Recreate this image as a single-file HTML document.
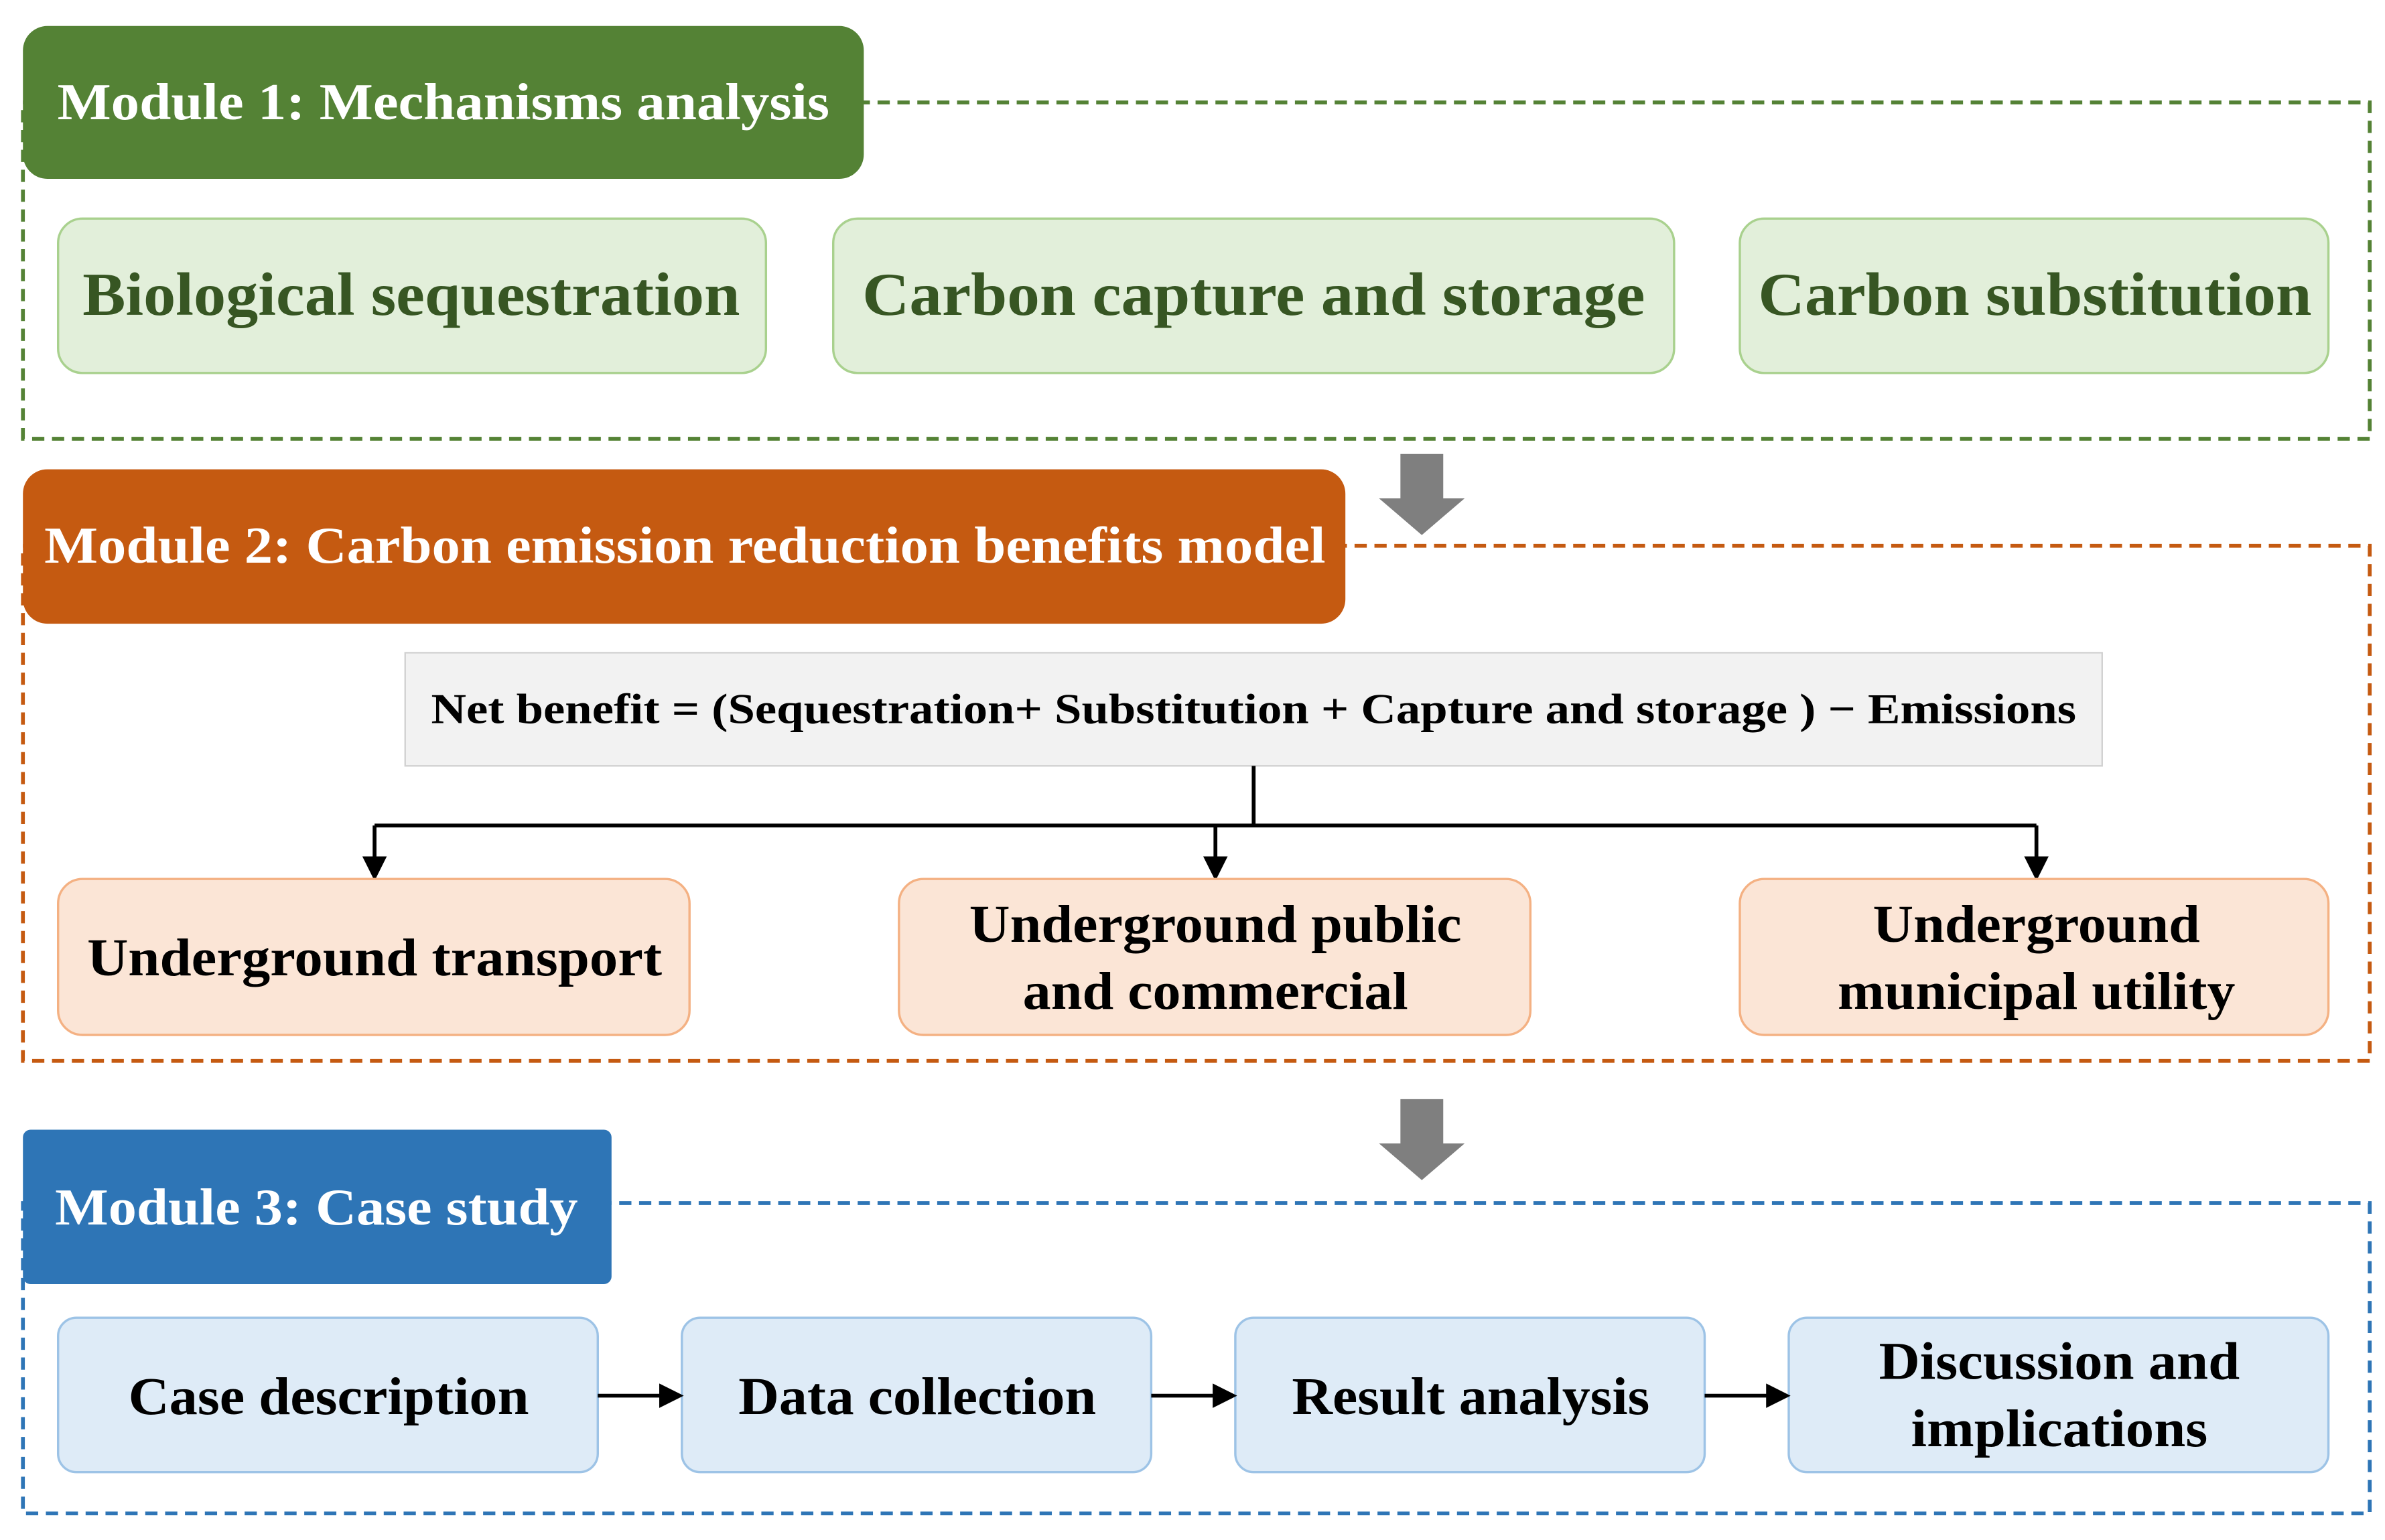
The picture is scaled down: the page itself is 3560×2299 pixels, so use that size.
<!DOCTYPE html>
<html><head><meta charset="utf-8"><style>
html,body{margin:0;padding:0;background:#fff;}
svg{display:block;}
text{font-family:"Liberation Serif",serif;font-weight:bold;}
</style></head><body>
<svg width="3560" height="2299" viewBox="0 0 1560 1007.4" preserveAspectRatio="none" xmlns="http://www.w3.org/2000/svg">
<defs>
<marker id="ah" markerWidth="8" markerHeight="8" refX="6" refY="4" orient="auto" markerUnits="userSpaceOnUse"><path d="M0,0 L8,4 L0,8 Z" fill="#000"/></marker>
<marker id="ab" viewBox="0 0 10 10" markerWidth="16" markerHeight="16" refX="8" refY="5" orient="auto" markerUnits="userSpaceOnUse"><path d="M0,0 L10,5 L0,10 Z" fill="#000"/></marker>
</defs>
<!-- Module 1 -->
<rect x="15" y="67" width="1535" height="220" fill="none" stroke="#548235" stroke-width="2.5" stroke-dasharray="8,5"/>
<rect x="15" y="17" width="550" height="100" rx="16" fill="#548235"/>
<text x="290" y="78" font-size="34" fill="#fff" text-anchor="middle" textLength="505" lengthAdjust="spacingAndGlyphs">Module 1: Mechanisms analysis</text>
<g fill="#e2efda" stroke="#a9d18e" stroke-width="1.5">
<rect x="38" y="143" width="463" height="101" rx="16"/>
<rect x="545" y="143" width="550" height="101" rx="16"/>
<rect x="1138" y="143" width="385" height="101" rx="16"/>
</g>
<g fill="#375623" font-size="40" text-anchor="middle">
<text x="269" y="206" textLength="430" lengthAdjust="spacingAndGlyphs">Biological sequestration</text>
<text x="820" y="206" textLength="512" lengthAdjust="spacingAndGlyphs">Carbon capture and storage</text>
<text x="1331" y="206" textLength="362" lengthAdjust="spacingAndGlyphs">Carbon substitution</text>
</g>
<!-- gray arrow 1 -->
<path d="M916,297 H944 V326 H958 L930,350 L902,326 H916 Z" fill="#7f7f7f"/>
<!-- Module 2 -->
<rect x="15" y="357" width="1535" height="337" fill="none" stroke="#c55a11" stroke-width="2.5" stroke-dasharray="8,5"/>
<rect x="15" y="307" width="865" height="101" rx="16" fill="#c55a11"/>
<text x="448" y="368" font-size="34" fill="#fff" text-anchor="middle" textLength="838" lengthAdjust="spacingAndGlyphs">Module 2: Carbon emission reduction benefits model</text>
<rect x="265" y="427" width="1110" height="74" fill="#f2f2f2" stroke="#d0d0d0" stroke-width="1"/>
<text x="820" y="473" font-size="28" fill="#000" text-anchor="middle" textLength="1076" lengthAdjust="spacingAndGlyphs">Net benefit = (Sequestration+ Substitution + Capture and storage )  − Emissions</text>
<g stroke="#000" stroke-width="2.5" fill="none">
<path d="M820,501 V540"/>
<path d="M245,540 H1332"/>
<path d="M245,540 V573" marker-end="url(#ab)"/>
<path d="M795,540 V573" marker-end="url(#ab)"/>
<path d="M1332,540 V573" marker-end="url(#ab)"/>
</g>
<g fill="#fbe5d6" stroke="#f4b183" stroke-width="1.5">
<rect x="38" y="575" width="413" height="102" rx="16"/>
<rect x="588" y="575" width="413" height="102" rx="16"/>
<rect x="1138" y="575" width="385" height="102" rx="16"/>
</g>
<g fill="#000" font-size="35" text-anchor="middle">
<text x="245" y="638" textLength="376" lengthAdjust="spacingAndGlyphs">Underground transport</text>
<text x="795" y="616" textLength="322" lengthAdjust="spacingAndGlyphs">Underground public</text>
<text x="795" y="660" textLength="252" lengthAdjust="spacingAndGlyphs">and commercial</text>
<text x="1332" y="616" textLength="214" lengthAdjust="spacingAndGlyphs">Underground</text>
<text x="1332" y="660" textLength="260" lengthAdjust="spacingAndGlyphs">municipal utility</text>
</g>
<!-- gray arrow 2 -->
<path d="M916,719 H944 V748 H958 L930,772 L902,748 H916 Z" fill="#7f7f7f"/>
<!-- Module 3 -->
<rect x="15" y="787" width="1535" height="203" fill="none" stroke="#2e75b6" stroke-width="2.5" stroke-dasharray="8,5"/>
<rect x="15" y="739" width="385" height="101" rx="5" fill="#2e75b6"/>
<text x="207" y="801" font-size="34" fill="#fff" text-anchor="middle" textLength="342" lengthAdjust="spacingAndGlyphs">Module 3: Case study</text>
<g fill="#deebf7" stroke="#9dc3e6" stroke-width="1.5">
<rect x="38" y="862" width="353" height="101" rx="12"/>
<rect x="446" y="862" width="307" height="101" rx="12"/>
<rect x="808" y="862" width="307" height="101" rx="12"/>
<rect x="1170" y="862" width="353" height="101" rx="12"/>
</g>
<g stroke="#000" stroke-width="2.5">
<path d="M391,913 H444" marker-end="url(#ab)"/>
<path d="M753,913 H806" marker-end="url(#ab)"/>
<path d="M1115,913 H1168" marker-end="url(#ab)"/>
</g>
<g fill="#000" font-size="35" text-anchor="middle">
<text x="215" y="925" textLength="262" lengthAdjust="spacingAndGlyphs">Case description</text>
<text x="600" y="925" textLength="234" lengthAdjust="spacingAndGlyphs">Data collection</text>
<text x="962" y="925" textLength="234" lengthAdjust="spacingAndGlyphs">Result analysis</text>
<text x="1347" y="902" textLength="236" lengthAdjust="spacingAndGlyphs">Discussion and</text>
<text x="1347" y="946" textLength="194" lengthAdjust="spacingAndGlyphs">implications</text>
</g>
</svg>
</body></html>
